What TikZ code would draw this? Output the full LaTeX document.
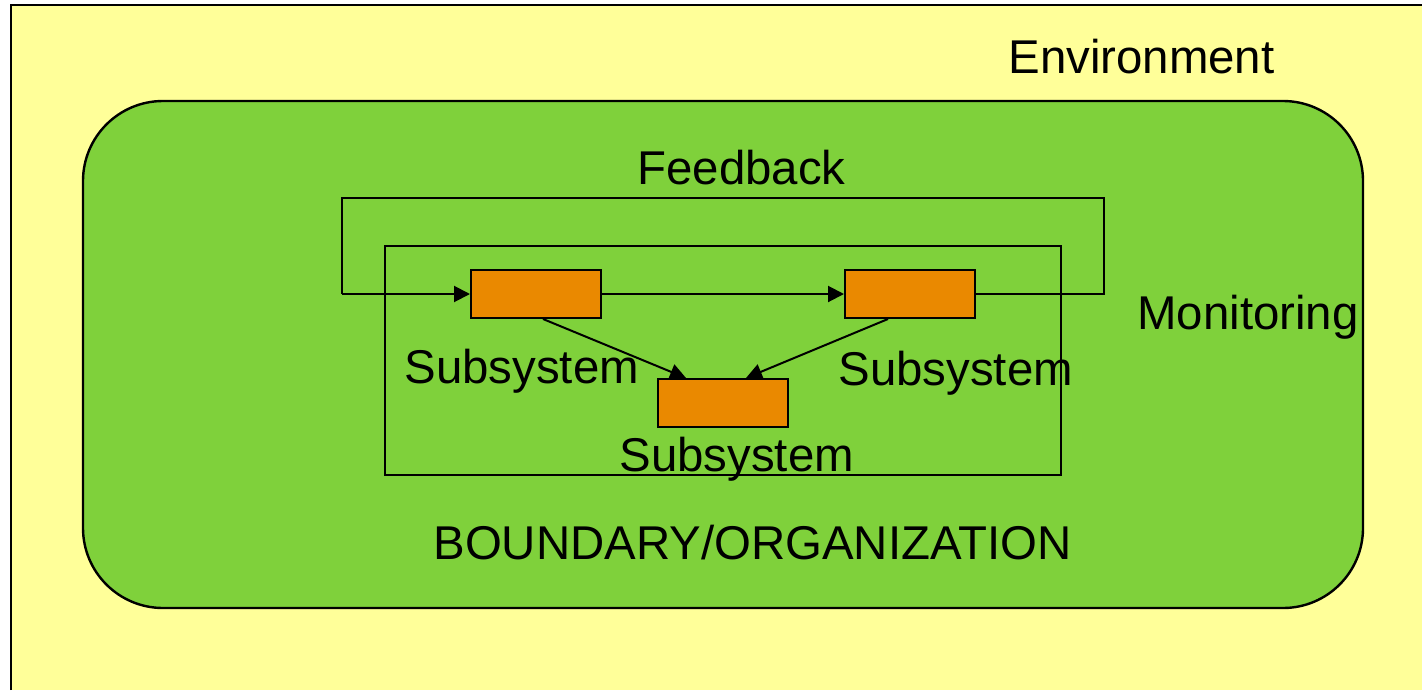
\documentclass[tikz,border=0pt]{standalone}
\usepackage{fontspec}
\setmainfont{Liberation Sans}
\usetikzlibrary{arrows.meta}
\definecolor{envyellow}{RGB}{255,255,153}
\definecolor{orggreen}{RGB}{127,209,59}
\definecolor{suborange}{RGB}{234,137,0}
\begin{document}
\begin{tikzpicture}[x=0.5pt,y=-0.5pt,
  lbl/.style={inner sep=0pt,anchor=base west,font=\fontsize{23.7}{28}\selectfont},
  subbox/.style={draw=black,line width=1pt,fill=suborange,minimum width=65pt,minimum height=24pt,inner sep=0pt},
  wire/.style={draw=black,line width=1pt},
  arr/.style={wire,-{Triangle[length=8pt,width=8pt]}}]
\useasboundingbox (0,0) rectangle (1422,690);
% environment
\fill[envyellow] (11,5) rectangle (1422,690);
\draw[line width=1.3pt] (11,690) -- (11,5) -- (1422,5);
\node[lbl] (env) at (1008,74) {Environment};
% organization
\draw[line width=1.2pt,fill=orggreen,rounded corners=40pt] (83,101) rectangle (1363,608);
\node[lbl] (org) at (433,559) {BOUNDARY/ORGANIZATION};
% boundary of system
\draw[wire] (385,246) rectangle (1061,475);
% subsystems
\node[subbox] (s1) at (536,294) {};
\node[subbox] (s2) at (910,294) {};
\node[subbox] (s3) at (723,403) {};
\node[lbl] (l1) at (404,383) {Subsystem};
\node[lbl] (l2) at (838,385) {Subsystem};
\node[lbl] (l3) at (619,471) {Subsystem};
% connectors
\draw[arr] (s1.east) -- (s2.west);
\draw[arr] ([xshift=3.5pt]s1.south) -- ([xshift=-18.5pt]s3.north);
\draw[arr] ([xshift=-11pt]s2.south) -- ([xshift=11.5pt]s3.north);
% feedback loop
\coordinate (fbR) at (1104,294);
\coordinate (fbRT) at (1104,198);
\coordinate (fbLT) at (342,198);
\coordinate (fbL) at (342,294);
\draw[wire] (s2.east) -- (fbR) -- (fbRT) -- (fbLT) -- (fbL);
\draw[arr] (fbL) -- (s1.west);
\node[lbl] (fb) at (637,184) {Feedback};
\node[lbl] (mon) at (1137,329) {Monitoring};
\end{tikzpicture}
\end{document}
